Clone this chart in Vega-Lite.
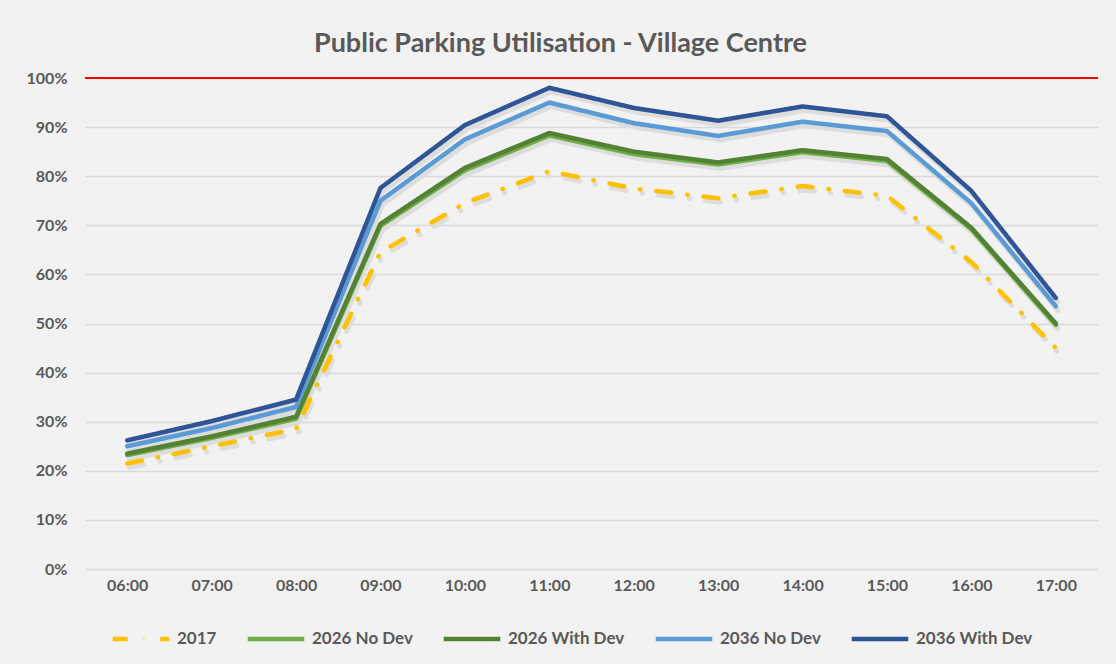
{
  "$schema": "https://vega.github.io/schema/vega-lite/v6.json",
  "autosize": "none",
  "width": 1013,
  "height": 491,
  "padding": {"left": 85, "top": 78, "right": 18, "bottom": 95},
  "background": "#F2F2F2",
  "title": {
    "text": "Public Parking Utilisation - Village Centre",
    "font": "Lato",
    "fontSize": 27,
    "fontWeight": "bold",
    "color": "#595959",
    "anchor": "middle",
    "offset": 12,
    "dx": -31
  },
  "config": {
    "view": {"stroke": null},
    "axis": {"labelFont": "Lato", "labelFontWeight": "bold", "labelFontSize": 16, "labelColor": "#595959"},
    "legend": {"labelFont": "Lato", "labelFontWeight": "bold", "labelFontSize": 17, "labelColor": "#595959"}
  },
  "data": {
    "values": [
      {"time": "06:00", "series": "2017", "value": 0.215},
      {"time": "07:00", "series": "2017", "value": 0.25},
      {"time": "08:00", "series": "2017", "value": 0.285},
      {"time": "09:00", "series": "2017", "value": 0.645},
      {"time": "10:00", "series": "2017", "value": 0.745},
      {"time": "11:00", "series": "2017", "value": 0.81},
      {"time": "12:00", "series": "2017", "value": 0.775},
      {"time": "13:00", "series": "2017", "value": 0.755},
      {"time": "14:00", "series": "2017", "value": 0.78},
      {"time": "15:00", "series": "2017", "value": 0.76},
      {"time": "16:00", "series": "2017", "value": 0.625},
      {"time": "17:00", "series": "2017", "value": 0.45},
      {"time": "06:00", "series": "2026 No Dev", "value": 0.232},
      {"time": "07:00", "series": "2026 No Dev", "value": 0.267},
      {"time": "08:00", "series": "2026 No Dev", "value": 0.306},
      {"time": "09:00", "series": "2026 No Dev", "value": 0.699},
      {"time": "10:00", "series": "2026 No Dev", "value": 0.812},
      {"time": "11:00", "series": "2026 No Dev", "value": 0.883},
      {"time": "12:00", "series": "2026 No Dev", "value": 0.845},
      {"time": "13:00", "series": "2026 No Dev", "value": 0.824},
      {"time": "14:00", "series": "2026 No Dev", "value": 0.849},
      {"time": "15:00", "series": "2026 No Dev", "value": 0.831},
      {"time": "16:00", "series": "2026 No Dev", "value": 0.692},
      {"time": "17:00", "series": "2026 No Dev", "value": 0.497},
      {"time": "06:00", "series": "2026 With Dev", "value": 0.235},
      {"time": "07:00", "series": "2026 With Dev", "value": 0.27},
      {"time": "08:00", "series": "2026 With Dev", "value": 0.31},
      {"time": "09:00", "series": "2026 With Dev", "value": 0.703},
      {"time": "10:00", "series": "2026 With Dev", "value": 0.817},
      {"time": "11:00", "series": "2026 With Dev", "value": 0.888},
      {"time": "12:00", "series": "2026 With Dev", "value": 0.85},
      {"time": "13:00", "series": "2026 With Dev", "value": 0.828},
      {"time": "14:00", "series": "2026 With Dev", "value": 0.853},
      {"time": "15:00", "series": "2026 With Dev", "value": 0.835},
      {"time": "16:00", "series": "2026 With Dev", "value": 0.695},
      {"time": "17:00", "series": "2026 With Dev", "value": 0.5},
      {"time": "06:00", "series": "2036 No Dev", "value": 0.25},
      {"time": "07:00", "series": "2036 No Dev", "value": 0.287},
      {"time": "08:00", "series": "2036 No Dev", "value": 0.33},
      {"time": "09:00", "series": "2036 No Dev", "value": 0.75},
      {"time": "10:00", "series": "2036 No Dev", "value": 0.875},
      {"time": "11:00", "series": "2036 No Dev", "value": 0.95},
      {"time": "12:00", "series": "2036 No Dev", "value": 0.908},
      {"time": "13:00", "series": "2036 No Dev", "value": 0.882},
      {"time": "14:00", "series": "2036 No Dev", "value": 0.911},
      {"time": "15:00", "series": "2036 No Dev", "value": 0.892},
      {"time": "16:00", "series": "2036 No Dev", "value": 0.745},
      {"time": "17:00", "series": "2036 No Dev", "value": 0.535},
      {"time": "06:00", "series": "2036 With Dev", "value": 0.262},
      {"time": "07:00", "series": "2036 With Dev", "value": 0.301},
      {"time": "08:00", "series": "2036 With Dev", "value": 0.345},
      {"time": "09:00", "series": "2036 With Dev", "value": 0.776},
      {"time": "10:00", "series": "2036 With Dev", "value": 0.904},
      {"time": "11:00", "series": "2036 With Dev", "value": 0.98},
      {"time": "12:00", "series": "2036 With Dev", "value": 0.939},
      {"time": "13:00", "series": "2036 With Dev", "value": 0.913},
      {"time": "14:00", "series": "2036 With Dev", "value": 0.942},
      {"time": "15:00", "series": "2036 With Dev", "value": 0.922},
      {"time": "16:00", "series": "2036 With Dev", "value": 0.77},
      {"time": "17:00", "series": "2036 With Dev", "value": 0.552}
    ]
  },
  "layer": [
    {
      "mark": {"type": "line", "strokeWidth": 5, "strokeCap": "round", "strokeJoin": "round", "color": "#DDDDDD", "xOffset": 2, "yOffset": 4},
      "encoding": {
        "x": {"field": "time", "type": "ordinal"},
        "y": {"field": "value", "type": "quantitative"},
        "detail": {"field": "series"},
        "strokeDash": {"field": "series", "type": "nominal", "title": null,
          "scale": {"domain": ["2017", "2026 No Dev", "2026 With Dev", "2036 No Dev", "2036 With Dev"], "range": [[15, 16, 0.5, 16], [1, 0], [1, 0], [1, 0], [1, 0]]}}
      }
    },
    {
      "mark": {"type": "line", "strokeWidth": 4.5, "strokeCap": "round", "strokeJoin": "round"},
      "encoding": {
        "x": {"field": "time", "type": "ordinal", "title": null,
          "axis": {"labelAngle": 0, "labelAlign": "center", "ticks": false, "domain": false, "labelPadding": 16, "grid": false}},
        "y": {"field": "value", "type": "quantitative", "title": null,
          "scale": {"domain": [0, 1], "nice": false},
          "axis": {"format": ".0%", "values": [0, 0.1, 0.2, 0.3, 0.4, 0.5, 0.6, 0.7, 0.8, 0.9, 1], "ticks": false, "domain": false, "labelPadding": 18, "gridColor": "#D9D9D9", "gridWidth": 1.3}},
        "color": {"field": "series", "type": "nominal", "title": null,
          "scale": {"domain": ["2017", "2026 No Dev", "2026 With Dev", "2036 No Dev", "2036 With Dev"], "range": ["#FFC000", "#70AD47", "#548235", "#5B9BD5", "#2F5597"]},
          "legend": {"orient": "none", "legendX": 25, "legendY": 530, "direction": "horizontal", "symbolType": "stroke", "symbolSize": 3200, "symbolStrokeWidth": 4.5, "symbolOpacity": 1, "columnPadding": 21, "labelOffset": 5, "padding": 0}},
        "strokeDash": {"field": "series", "type": "nominal", "title": null,
          "scale": {"domain": ["2017", "2026 No Dev", "2026 With Dev", "2036 No Dev", "2036 With Dev"], "range": [[15, 16, 0.5, 16], [1, 0], [1, 0], [1, 0], [1, 0]]}},
        "order": {"field": "series"}
      }
    },
    {
      "mark": {"type": "rule", "color": "#FF0000", "strokeWidth": 2},
      "encoding": {"y": {"datum": 1}}
    }
  ]
}
